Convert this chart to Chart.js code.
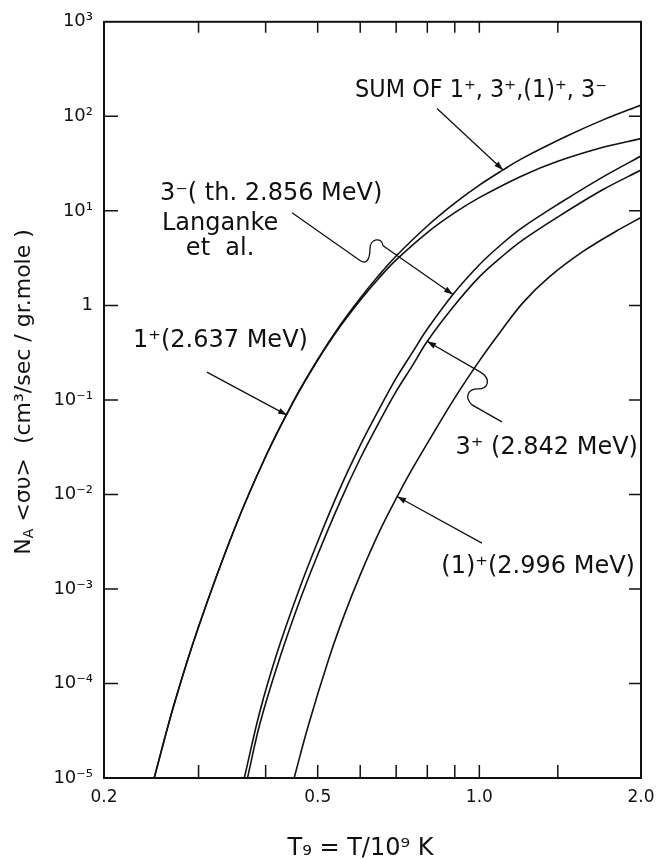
<!DOCTYPE html>
<html>
<head>
<meta charset="utf-8">
<script src="https://cdn.jsdelivr.net/npm/chart.js@4.4.0/dist/chart.umd.min.js"></script>
<style>
html, body { margin: 0; padding: 0; background: #fff; }
</style>
</head>
<body>
<canvas id="myChart" width="658" height="860"></canvas>
<script>
// T9 values and rates
var tSum = [0.248, 0.27, 0.3, 0.35, 0.4, 0.45, 0.5, 0.55, 0.6, 0.65, 0.7, 0.8, 0.9, 1.0, 1.107, 1.2, 1.456, 1.7, 2.0];
var rSum = [1e-5, 5.96e-5, 3.98e-4, 4.33e-3, 0.0252, 0.0955, 0.268, 0.612, 1.19, 2.08, 3.33, 6.91, 12.05, 18.7, 27.1, 35.7, 61.9, 91.7, 131.6];

var t1plus = [0.248, 0.27, 0.3, 0.35, 0.4, 0.45, 0.5, 0.55, 0.6, 0.65, 0.7, 0.8, 0.9, 1.0, 1.2, 1.4, 1.7, 2.0];
var r1plus = [1e-5, 5.96e-5, 3.98e-4, 4.33e-3, 0.0252, 0.0944, 0.263, 0.592, 1.135, 1.94, 3.03, 5.9, 9.57, 13.8, 23.4, 33.4, 47.0, 58.1];

var t3minus = [0.365, 0.39, 0.421, 0.46, 0.5, 0.55, 0.6, 0.65, 0.7, 0.75, 0.8, 0.893, 1.0, 1.093, 1.2, 1.413, 1.7, 2.0];
var r3minus = [1e-5, 5.0e-5, 2.19e-4, 9.3e-4, 3.16e-3, 0.0115, 0.033, 0.079, 0.17, 0.316, 0.562, 1.306, 2.69, 4.3, 6.6, 12.1, 22.9, 38];

var t3plus = [0.37, 0.39, 0.421, 0.46, 0.5, 0.55, 0.6, 0.65, 0.7, 0.75, 0.8, 0.893, 1.0, 1.093, 1.2, 1.413, 1.7, 2.0];
var r3plus = [1e-5, 3.7e-5, 1.58e-4, 6.8e-4, 2.3e-3, 8.3e-3, 0.024, 0.0575, 0.123, 0.229, 0.417, 0.955, 2.0, 3.16, 4.84, 8.9, 16.8, 27];

var t1x = [0.452, 0.48, 0.525, 0.56, 0.6, 0.653, 0.703, 0.75, 0.8, 0.9, 1.0, 1.1, 1.206, 1.35, 1.56, 1.8, 2.0];
var r1x = [1e-5, 3.55e-5, 1.86e-4, 5.25e-4, 1.41e-3, 4.17e-3, 9.5e-3, 0.0186, 0.0347, 0.105, 0.259, 0.546, 1.07, 2.0, 3.72, 6.12, 8.49];

var xTicks = [0.2, 0.5, 1.0, 2.0];
var xTickLabels = ["0.2", "0.5", "1.0", "2.0"];
var xMarks = [0.3, 0.4, 0.5, 0.6, 0.7, 0.8, 0.9, 1.0, 1.4];
var yTicks = [1e-5, 1e-4, 1e-3, 1e-2, 1e-1, 1, 10, 100, 1000];
var yTickLabels = ["10\u207B\u2075", "10\u207B\u2074", "10\u207B\u00B3", "10\u207B\u00B2", "10\u207B\u00B9", "1", "10\u00B9", "10\u00B2", "10\u00B3"];

var FONT = "'DejaVu Sans', sans-serif";
var INK = "#111";

function toPoints(ts, rs) {
    var pts = [];
    for (var i = 0; i < ts.length; i++) {
        pts.push({x: ts[i], y: rs[i]});
    }
    return pts;
}

function curve(ts, rs) {
    return {
        data: toPoints(ts, rs),
        borderColor: INK,
        borderWidth: 1.6,
        pointRadius: 0,
        fill: false,
        tension: 0.35
    };
}

function arrowHead(ctx, x1, y1, x2, y2) {
    var a = Math.atan2(y2 - y1, x2 - x1);
    var len = 9, w = 3;
    ctx.beginPath();
    ctx.moveTo(x2, y2);
    ctx.lineTo(x2 - len * Math.cos(a) + w * Math.sin(a), y2 - len * Math.sin(a) - w * Math.cos(a));
    ctx.lineTo(x2 - len * Math.cos(a) - w * Math.sin(a), y2 - len * Math.sin(a) + w * Math.cos(a));
    ctx.closePath();
    ctx.fill();
}

var framePlugin = {
    id: 'frame',
    afterDraw: function(chart) {
        var ctx = chart.ctx;
        var a = chart.chartArea;
        var xs = chart.scales.x, ys = chart.scales.y;
        function P(t, r) { return [xs.getPixelForValue(t), ys.getPixelForValue(r)]; }

        ctx.save();
        ctx.strokeStyle = INK;
        ctx.fillStyle = INK;
        ctx.lineWidth = 2;
        ctx.strokeRect(a.left, a.top, a.right - a.left, a.bottom - a.top);

        // inward tick marks
        ctx.lineWidth = 1.5;
        ctx.beginPath();
        xMarks.forEach(function(v) {
            var p = xs.getPixelForValue(v);
            ctx.moveTo(p, a.bottom); ctx.lineTo(p, a.bottom - 13);
            ctx.moveTo(p, a.top); ctx.lineTo(p, a.top + 11);
        });
        yTicks.slice(1, -1).forEach(function(v) {
            var p = ys.getPixelForValue(v);
            ctx.moveTo(a.left, p); ctx.lineTo(a.left + 14, p);
            ctx.moveTo(a.right, p); ctx.lineTo(a.right - 12, p);
        });
        ctx.stroke();

        // axis titles
        ctx.textBaseline = 'alphabetic';
        ctx.font = "24px " + FONT;
        ctx.textAlign = 'center';
        ctx.fillText("T\u2089 = T/10\u2079 K", (a.left + a.right) / 2 - 12, 855);

        ctx.save();
        ctx.translate(30, (a.top + a.bottom) / 2 - 8);
        ctx.rotate(-Math.PI / 2);
        var parts = [
            {t: "N", f: "22px " + FONT, dy: 0},
            {t: "A", f: "14px " + FONT, dy: 3},
            {t: " <\u03C3\u03C5>  (cm\u00B3/sec / gr.mole )", f: "22px " + FONT, dy: 0}
        ];
        var total = 0;
        parts.forEach(function(p) { ctx.font = p.f; p.w = ctx.measureText(p.t).width; total += p.w; });
        var cx = -total / 2;
        ctx.textAlign = 'left';
        parts.forEach(function(p) { ctx.font = p.f; ctx.fillText(p.t, cx, p.dy); cx += p.w; });
        ctx.restore();

        // curve labels
        ctx.font = "24px " + FONT;
        ctx.lineWidth = 1.3;
        var p, s, b, e;
        ctx.textAlign = 'left';
        p = P(0.587, 162);
        ctx.fillText("SUM OF 1\u207A, 3\u207A,(1)\u207A, 3\u207B", p[0], p[1], 252);
        s = P(0.834, 121); e = P(1.107, 27.1);
        ctx.beginPath(); ctx.moveTo(s[0], s[1]); ctx.lineTo(e[0], e[1]); ctx.stroke();
        arrowHead(ctx, s[0], s[1], e[0], e[1]);

        p = P(0.2542, 13.06);
        ctx.fillText("3\u207B( th. 2.856 MeV)", p[0], p[1]);
        ctx.textAlign = 'center';
        p = P(0.329, 6.31);
        ctx.fillText("Langanke", p[0], p[1]);
        p = P(0.329, 3.44);
        ctx.fillText("et  al.", p[0], p[1]);
        s = P(0.4479, 9.53);
        b = P(0.5994, 2.98);
        e = P(0.893, 1.306);
        ctx.beginPath();
        ctx.moveTo(s[0], s[1]);
        ctx.lineTo(b[0], b[1]);
        ctx.bezierCurveTo(b[0] + 6, b[1] + 4, b[0] + 10, b[1], b[0] + 10, b[1] - 12);
        ctx.bezierCurveTo(b[0] + 10, b[1] - 22, b[0] + 22, b[1] - 24, b[0] + 23, b[1] - 15);
        ctx.lineTo(b[0] + 27, b[1] - 12);
        ctx.lineTo(e[0], e[1]);
        ctx.stroke();
        arrowHead(ctx, b[0] + 27, b[1] - 12, e[0], e[1]);

        ctx.textAlign = 'left';
        p = P(0.2265, 0.361);
        ctx.fillText("1\u207A(2.637 MeV)", p[0], p[1]);
        s = P(0.3109, 0.197); e = P(0.4384, 0.069);
        ctx.beginPath(); ctx.moveTo(s[0], s[1]); ctx.lineTo(e[0], e[1]); ctx.stroke();
        arrowHead(ctx, s[0], s[1], e[0], e[1]);

        ctx.textAlign = 'right';
        p = P(1.9742, 0.02704);
        ctx.fillText("3\u207A (2.842 MeV)", p[0], p[1]);
        s = P(1.1017, 0.0586);
        b = P(0.9690, 0.0885);
        e = P(0.7993, 0.417);
        ctx.beginPath();
        ctx.moveTo(s[0], s[1]);
        ctx.lineTo(b[0], b[1]);
        ctx.bezierCurveTo(b[0] - 8, b[1] - 8, b[0] - 4, b[1] - 16, b[0] + 6, b[1] - 16);
        ctx.bezierCurveTo(b[0] + 16, b[1] - 16, b[0] + 20, b[1] - 26, b[0] + 8, b[1] - 33);
        ctx.lineTo(e[0], e[1]);
        ctx.stroke();
        arrowHead(ctx, b[0] + 8, b[1] - 33, e[0], e[1]);

        p = P(1.9486, 0.001473);
        ctx.fillText("(1)\u207A(2.996 MeV)", p[0], p[1]);
        s = P(1.011, 0.00305); e = P(0.703, 0.0095);
        ctx.beginPath(); ctx.moveTo(s[0], s[1]); ctx.lineTo(e[0], e[1]); ctx.stroke();
        arrowHead(ctx, s[0], s[1], e[0], e[1]);

        ctx.restore();
    }
};

window.onload = function() {
    var ctx = document.getElementById('myChart');
    var myChart = new Chart(ctx, {
        type: 'line',
        data: {
            datasets: [
                curve(tSum, rSum),
                curve(t1plus, r1plus),
                curve(t3minus, r3minus),
                curve(t3plus, r3plus),
                curve(t1x, r1x)
            ]
        },
        options: {
            responsive: false,
            animation: false,
            layout: { padding: { left: 0, right: 17, top: 18, bottom: 0 } },
            plugins: { legend: { display: false }, tooltip: { enabled: false } },
            scales: {
                x: {
                    type: 'logarithmic',
                    min: 0.2, max: 2.0,
                    grid: { display: false, drawTicks: false },
                    border: { display: false },
                    afterBuildTicks: function(s) { s.ticks = xTicks.map(function(v) { return {value: v}; }); },
                    afterFit: function(s) { s.height = 82; },
                    ticks: {
                        autoSkip: false, maxRotation: 0, padding: 3, color: INK,
                        font: { family: FONT, size: 17, lineHeight: 1.9 },
                        callback: function(v, i) { return xTickLabels[i]; }
                    }
                },
                y: {
                    type: 'logarithmic',
                    min: 1e-5, max: 1e3,
                    grid: { display: false, drawTicks: false },
                    border: { display: false },
                    afterBuildTicks: function(s) { s.ticks = yTicks.map(function(v) { return {value: v}; }); },
                    afterFit: function(s) { s.width = 104; },
                    ticks: {
                        autoSkip: false, padding: 11, color: INK,
                        font: { family: FONT, size: 18 },
                        callback: function(v, i) { return yTickLabels[i]; }
                    }
                }
            }
        },
        plugins: [framePlugin]
    });
};
</script>
</body>
</html>
